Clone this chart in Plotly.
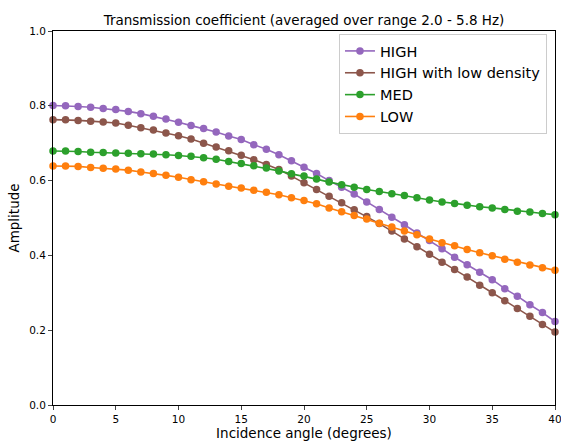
import plotly.graph_objects as go

angles = list(range(0, 41))

high = [0.801, 0.800, 0.798, 0.796, 0.793, 0.790, 0.785, 0.779, 0.772, 0.765,
        0.756, 0.747, 0.739, 0.730, 0.719, 0.710, 0.696, 0.684, 0.669, 0.653,
        0.636, 0.619, 0.600, 0.582, 0.564, 0.543, 0.523, 0.502, 0.482, 0.460,
        0.440, 0.418, 0.395, 0.375, 0.355, 0.335, 0.311, 0.291, 0.268, 0.247, 0.223]

high_low_density = [0.763, 0.763, 0.761, 0.759, 0.757, 0.754, 0.748, 0.741, 0.735, 0.727,
                    0.720, 0.711, 0.700, 0.690, 0.680, 0.668, 0.656, 0.643, 0.630, 0.612,
                    0.594, 0.576, 0.558, 0.541, 0.522, 0.504, 0.485, 0.465, 0.444, 0.423,
                    0.403, 0.382, 0.362, 0.342, 0.320, 0.300, 0.279, 0.258, 0.237, 0.215, 0.195]

med = [0.679, 0.679, 0.678, 0.676, 0.675, 0.674, 0.673, 0.672, 0.671, 0.669,
       0.667, 0.665, 0.661, 0.657, 0.651, 0.646, 0.640, 0.634, 0.626, 0.618,
       0.612, 0.604, 0.596, 0.589, 0.582, 0.576, 0.571, 0.565, 0.560, 0.554,
       0.548, 0.543, 0.539, 0.534, 0.530, 0.527, 0.523, 0.518, 0.516, 0.512, 0.509]

low = [0.639, 0.639, 0.638, 0.635, 0.633, 0.631, 0.628, 0.623, 0.619, 0.614,
       0.609, 0.602, 0.597, 0.591, 0.585, 0.580, 0.574, 0.569, 0.562, 0.554,
       0.547, 0.538, 0.527, 0.517, 0.507, 0.497, 0.486, 0.476, 0.465, 0.455,
       0.444, 0.434, 0.426, 0.416, 0.407, 0.399, 0.390, 0.382, 0.374, 0.367, 0.360]

series = [
    ("HIGH", high, "#9467bd"),
    ("HIGH with low density", high_low_density, "#8c564b"),
    ("MED", med, "#2ca02c"),
    ("LOW", low, "#ff7f0e"),
]

x_ticks = [0, 5, 10, 15, 20, 25, 30, 35, 40]
y_ticks = [0.0, 0.2, 0.4, 0.6, 0.8, 1.0]

fig = go.Figure()
for name, vals, color in series:
    fig.add_trace(go.Scatter(
        x=angles, y=vals, name=name, mode="lines+markers",
        line=dict(color=color, width=1.6),
        marker=dict(color=color, size=7.5),
        cliponaxis=False,
    ))

font_family = "DejaVu Sans"
fig.update_layout(
    width=561, height=443,
    margin=dict(l=53, r=6, t=31, b=38, autoexpand=False),
    paper_bgcolor="white", plot_bgcolor="white",
    font=dict(family=font_family, color="black", size=10.5),
    title=dict(text="Transmission coefficient (averaged over range 2.0 - 5.8 Hz)",
               x=0.5, xref="paper", xanchor="center",
               y=1 - 20 / 443, yref="container", yanchor="middle",
               font=dict(size=13.5, family=font_family, color="black")),
    xaxis=dict(range=[0, 40], tickvals=x_ticks, ticks="outside", ticklen=4,
               showline=True, linecolor="black", linewidth=1, mirror=True,
               showgrid=False, zeroline=False, automargin=False,
               ticklabeloverflow="allow",
               title=dict(text="Incidence angle (degrees)", font=dict(size=13.5), standoff=2),
               tickfont=dict(size=10.5)),
    yaxis=dict(range=[0, 1], tickvals=y_ticks, tickformat=".1f", ticks="outside", ticklen=4,
               showline=True, linecolor="black", linewidth=1, mirror=True,
               showgrid=False, zeroline=False, automargin=False,
               ticklabeloverflow="allow",
               title=dict(text="Amplitude", font=dict(size=13.5), standoff=6),
               tickfont=dict(size=10.5)),
    legend=dict(x=0.984, y=0.992, xanchor="right", yanchor="top",
                bgcolor="rgba(255,255,255,0.8)", bordercolor="#cccccc", borderwidth=1,
                font=dict(size=14.5, family=font_family), tracegroupgap=0,
                itemwidth=30),
    showlegend=True,
)

fig.write_html("out.html",
               config={"displayModeBar": False},
               post_script="document.body.style.margin='0px';document.body.style.overflow='hidden';")
